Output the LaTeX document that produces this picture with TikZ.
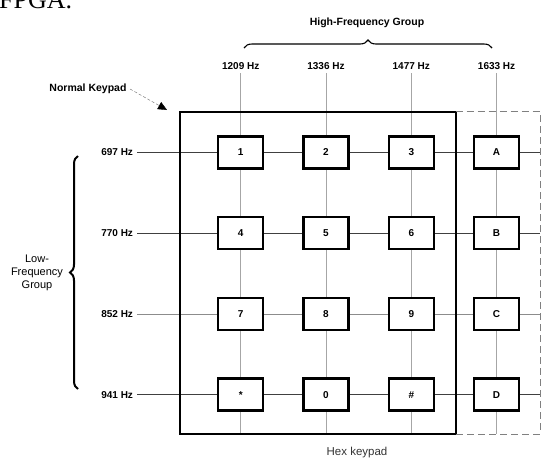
\documentclass[tikz,border=0pt]{standalone}
\usepackage{fontspec}
\setmainfont{Liberation Sans}
\newfontfamily\bookfont{Liberation Serif}
\usetikzlibrary{positioning, arrows.meta, backgrounds, decorations.pathreplacing}

\begin{document}
\begin{tikzpicture}[
    x=1pt, y=-1pt,
    node distance=80.7pt and 85.3pt, on grid,
    key/.style={rectangle, draw, line width=2.4pt, fill=white, minimum width=45pt, minimum height=32pt, font=\fontsize{10}{10}\selectfont\bfseries},
    freq/.style={font=\fontsize{10}{10}\selectfont\bfseries, inner sep=0pt, outer sep=4pt},
    title/.style={font=\fontsize{10.5}{10.5}\selectfont\bfseries},
    wire/.style={line width=0.8pt, black!75},
    faint/.style={line width=0.8pt, black!35},
    group/.style={decorate, decoration={brace, amplitude=8pt}}
]
\useasboundingbox (0,0) rectangle (555,459);

% cut-off text of the page above
\node[anchor=base west, inner sep=0pt, font=\fontsize{26}{26}\selectfont\bookfont] (page) at (-1,8) {FPGA.};

% keys
\node[key] (k1) at (240.7,152.5) {1};
\node[key, right=of k1] (k2) {2};
\node[key, right=of k2] (k3) {3};
\node[key, right=of k3] (kA) {A};
\node[key, below=of k1] (k4) {4};
\node[key, right=of k4] (k5) {5};
\node[key, right=of k5] (k6) {6};
\node[key, right=of k6] (kB) {B};
\node[key, below=of k4] (k7) {7};
\node[key, right=of k7] (k8) {8};
\node[key, right=of k8] (k9) {9};
\node[key, right=of k9] (kC) {C};
\node[key, below=of k7] (kstar) {*};
\node[key, right=of kstar] (k0) {0};
\node[key, right=of k0] (khash) {\#};
\node[key, right=of khash] (kD) {D};

% frequencies
\node[freq] (f1209) at (k1 |- 0,65.7) {1209 Hz};
\node[freq] (f1336) at (k2 |- 0,65.7) {1336 Hz};
\node[freq] (f1477) at (k3 |- 0,65.7) {1477 Hz};
\node[freq] (f1633) at (kA |- 0,65.7) {1633 Hz};
\node[freq, anchor=east] (f697) at (k1 -| 137,0) {697 Hz};
\node[freq, anchor=east] (f770) at (k4 -| 137,0) {770 Hz};
\node[freq, anchor=east] (f852) at (k7 -| 137,0) {852 Hz};
\node[freq, anchor=east] (f941) at (kstar -| 137,0) {941 Hz};

% keypad outlines
\coordinate (nw) at (180,111.7);
\coordinate (se) at (455.7,434);
\coordinate (hexne) at (540,111.7);
\coordinate (hexse) at (540,434);
\draw[line width=1.8pt] (nw) rectangle (se);
\draw[black!50, line width=0.9pt, dash pattern=on 7pt off 4pt] (se |- hexne) -- (hexne) -- (hexse) -- (se);

\begin{scope}[on background layer]
\foreach \f in {f1209,f1336,f1477,f1633} \draw[faint] (\f.south) -- (\f.south |- se);
\foreach \f in {f697,f770,f941} \draw[wire] (\f.east) -- (\f.east -| hexse);
\draw[wire, black!45] (f852.east) -- (f852.east -| hexse);
\end{scope}

% groups
\node[title] (high) at (367,22.7) {High-Frequency Group};
\draw[group, line width=1.1pt] (244,48) -- (492,48);
\node[align=center, font=\fontsize{11}{13}\selectfont] (low) at (37,273) {Low-\\Frequency\\Group};
\draw[group, line width=2pt] (78,389) -- (78,156);

% labels
\node[title] (normal) at (88,89) {Normal Keypad};
\coordinate (tip) at (167,110);
\draw[black!60, densely dashed, -{Triangle[length=9pt,width=8pt,black]}] (normal.east) -- (tip);
\node[font=\fontsize{11.5}{11.5}\selectfont, black!80] (hex) at (357,453) {Hex keypad};

\end{tikzpicture}
\end{document}
